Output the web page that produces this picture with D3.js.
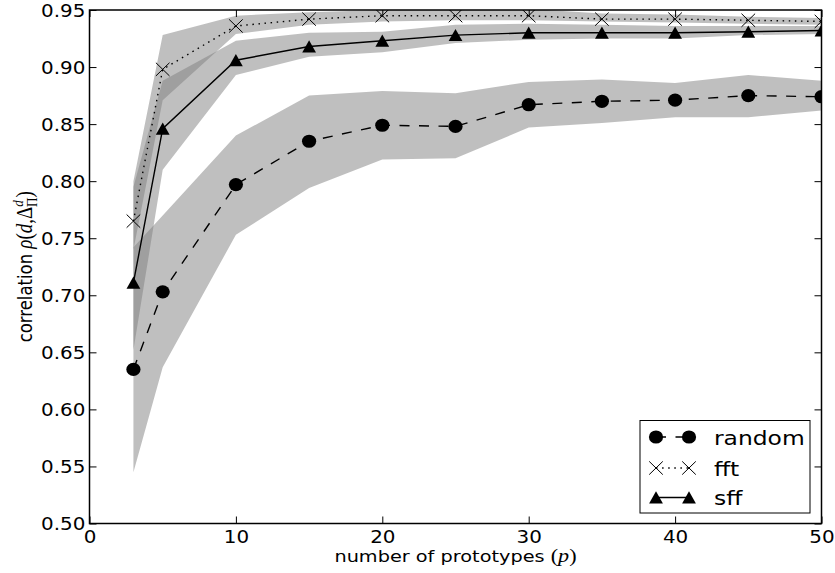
<!DOCTYPE html>
<html>
<head>
<meta charset="utf-8">
<script src="https://cdn.jsdelivr.net/npm/d3@7"></script>
<style>
  body { margin: 0; background: #fff; }
  text { font-family: "DejaVu Sans", sans-serif; fill: #000; }
</style>
</head>
<body>
<svg id="chart" width="835" height="573"></svg>
<script>
// number of prototypes on the x axis
const prototypes = [3, 5, 10, 15, 20, 25, 30, 35, 40, 45, 50];

// mean correlation and its spread for each selection strategy
const randomMean = [0.635, 0.703, 0.797, 0.835, 0.849, 0.848, 0.867, 0.870, 0.871, 0.875, 0.874];
const randomLow  = [0.545, 0.637, 0.753, 0.794, 0.819, 0.820, 0.847, 0.851, 0.856, 0.856, 0.862];
const randomHigh = [0.742, 0.770, 0.840, 0.875, 0.879, 0.877, 0.887, 0.889, 0.886, 0.893, 0.888];

const fftMean = [0.765, 0.898, 0.936, 0.942, 0.945, 0.945, 0.945, 0.942, 0.942, 0.941, 0.940];
const fftLow  = [0.740, 0.871, 0.929, 0.937, 0.940, 0.941, 0.941, 0.940, 0.939, 0.938, 0.937];
const fftHigh = [0.800, 0.928, 0.945, 0.948, 0.950, 0.951, 0.951, 0.947, 0.946, 0.944, 0.943];

const sffMean = [0.711, 0.846, 0.906, 0.918, 0.923, 0.928, 0.930, 0.930, 0.930, 0.931, 0.932];
const sffLow  = [0.652, 0.810, 0.893, 0.909, 0.913, 0.921, 0.924, 0.925, 0.925, 0.928, 0.929];
const sffHigh = [0.795, 0.888, 0.923, 0.930, 0.931, 0.937, 0.938, 0.937, 0.936, 0.936, 0.936];

const xTickValues = [0, 10, 20, 30, 40, 50];
const yTickValues = [0.50, 0.55, 0.60, 0.65, 0.70, 0.75, 0.80, 0.85, 0.90, 0.95];

const seriesNames = ["random", "fft", "sff"];

// ---------------------------------------------------------------
const svg = d3.select("#chart");
const STRETCH = 1.17;          // horizontal text widening
const TICK_FONT = 17;
const TITLE_FONT = 16.5;

const x = d3.scaleLinear().domain([0, 50]).range([89.5, 821.5]);
const y = d3.scaleLinear().domain([0.50, 0.95]).range([523.5, 10]);

const [x0, x1] = x.range();
const [yb, yt] = y.range();

svg.append("defs").append("clipPath").attr("id", "plot-clip")
  .append("rect").attr("x", x0).attr("y", yt).attr("width", x1 - x0).attr("height", yb - yt);

const plot = svg.append("g").attr("clip-path", "url(#plot-clip)");

const series = [
  { name: "random", mean: randomMean, low: randomLow, high: randomHigh, dash: "10,9.5", marker: "circle" },
  { name: "fft",    mean: fftMean,    low: fftLow,    high: fftHigh,    dash: "1.5,4.6", marker: "x" },
  { name: "sff",    mean: sffMean,    low: sffLow,    high: sffHigh,    dash: null,      marker: "triangle" }
];

// shaded spread bands
const band = d3.area()
  .x(d => x(d.p)).y0(d => y(d.lo)).y1(d => y(d.hi));

series.forEach(s => {
  const rows = prototypes.map((p, i) => ({ p, lo: s.low[i], hi: s.high[i] }));
  plot.append("path").datum(rows)
    .attr("d", band)
    .attr("fill", "#808080")
    .attr("fill-opacity", 0.5);
});

// mean lines
const line = d3.line().x(d => x(d.p)).y(d => y(d.v));

series.forEach(s => {
  const rows = prototypes.map((p, i) => ({ p, v: s.mean[i] }));
  plot.append("path").datum(rows)
    .attr("d", line)
    .attr("fill", "none")
    .attr("stroke", "#000")
    .attr("stroke-width", 1.4)
    .attr("stroke-dasharray", s.dash);
});

// marker glyphs, centred on the origin
function drawMarker(g, kind) {
  if (kind === "circle") {
    g.append("ellipse").attr("rx", 7.1).attr("ry", 6.6).attr("fill", "#000");
  } else if (kind === "triangle") {
    g.append("path").attr("d", "M0,-6.2L6.9,6L-6.9,6Z").attr("fill", "#000");
  } else {
    g.append("path").attr("d", "M-6.8,-6.6L6.8,6.6M-6.8,6.6L6.8,-6.6")
      .attr("stroke", "#000").attr("stroke-width", 1).attr("fill", "none");
  }
}

series.forEach(s => {
  prototypes.forEach((p, i) => {
    const g = plot.append("g").attr("transform", `translate(${x(p)},${y(s.mean[i])})`);
    drawMarker(g, s.marker);
  });
});

// axes with inward ticks on all four sides
function styleAxis(g) {
  g.select(".domain").remove();
  g.selectAll(".tick line").attr("stroke", "#000").attr("stroke-width", 1);
}

const bottom = svg.append("g").attr("transform", `translate(0,${yb})`)
  .call(d3.axisBottom(x).tickValues(xTickValues).tickSize(-7).tickPadding(7.5).tickFormat(d3.format("d")));
styleAxis(bottom);
bottom.selectAll(".tick text")
  .attr("font-size", TICK_FONT).attr("font-family", "DejaVu Sans")
  .attr("transform", `scale(${STRETCH},1)`);

svg.append("g").attr("transform", `translate(0,${yt})`)
  .call(d3.axisTop(x).tickValues(xTickValues).tickSize(-7).tickFormat(""))
  .call(styleAxis);

const left = svg.append("g").attr("transform", `translate(${x0},0)`)
  .call(d3.axisLeft(y).tickValues(yTickValues).tickSize(-7).tickPadding(3.5).tickFormat(d3.format(".2f")));
styleAxis(left);
left.selectAll(".tick text")
  .attr("font-size", TICK_FONT).attr("font-family", "DejaVu Sans")
  .attr("dy", "0.36em")
  .attr("transform", `scale(${STRETCH},1)`);

svg.append("g").attr("transform", `translate(${x1},0)`)
  .call(d3.axisRight(y).tickValues(yTickValues).tickSize(-7).tickFormat(""))
  .call(styleAxis);

// frame
svg.append("rect")
  .attr("x", x0).attr("y", yt).attr("width", x1 - x0).attr("height", yb - yt)
  .attr("fill", "none").attr("stroke", "#000").attr("stroke-width", 1.5);

// axis titles
const MATH = "Liberation Serif";
const m = TITLE_FONT * 1.15, small = TITLE_FONT * 0.8;

const xTitle = svg.append("text")
  .attr("transform", `translate(${(x0 + x1) / 2},562) scale(${STRETCH},1)`)
  .attr("text-anchor", "middle").attr("font-size", TITLE_FONT);
xTitle.append("tspan").text("number of prototypes ");
xTitle.append("tspan").attr("font-family", MATH).attr("font-size", m).text("(");
xTitle.append("tspan").attr("font-family", MATH).attr("font-style", "italic").attr("font-size", m).text("p");
xTitle.append("tspan").attr("font-family", MATH).attr("font-size", m).text(")");

const yTitle = svg.append("text")
  .attr("transform", `translate(32,${(yt + yb) / 2}) scale(${STRETCH},1) rotate(-90)`)
  .attr("text-anchor", "middle").attr("font-size", TITLE_FONT);
yTitle.append("tspan").text("correlation ");
yTitle.append("tspan").attr("font-family", MATH).attr("font-style", "italic").attr("font-size", m).text("ρ");
yTitle.append("tspan").attr("font-family", MATH).attr("font-size", m).text("(");
yTitle.append("tspan").attr("font-family", MATH).attr("font-style", "italic").attr("font-size", m).text("d");
yTitle.append("tspan").attr("font-family", MATH).attr("font-size", m).text(",");
yTitle.append("tspan").attr("font-family", MATH).attr("font-size", m).text("Δ");
yTitle.append("tspan").attr("font-family", MATH).attr("font-style", "italic").attr("font-size", small).attr("dy", -7.5).text("d");
yTitle.append("tspan").attr("font-family", MATH).attr("font-size", small).attr("dx", -6.8).attr("dy", 12).text("Π");
yTitle.append("tspan").attr("font-family", MATH).attr("font-size", m).attr("dy", -4.5).text(")");

// legend
const legend = svg.append("g");
legend.append("rect")
  .attr("x", 640).attr("y", 420.5).attr("width", 170).attr("height", 92.5)
  .attr("fill", "#fff").attr("stroke", "#000").attr("stroke-width", 1);

const legendRows = [437, 468, 497.5];
series.forEach((s, i) => {
  const ly = legendRows[i];
  legend.append("line")
    .attr("x1", 656).attr("x2", 689).attr("y1", ly).attr("y2", ly)
    .attr("stroke", "#000").attr("stroke-width", 1.4)
    .attr("stroke-dasharray", s.dash);
  [656, 689].forEach(mx => drawMarker(legend.append("g").attr("transform", `translate(${mx},${ly})`), s.marker));
  legend.append("text")
    .attr("transform", `translate(714,${ly + 7.5}) scale(${STRETCH},1)`)
    .attr("font-size", 20)
    .text(seriesNames[i]);
});
</script>
</body>
</html>
